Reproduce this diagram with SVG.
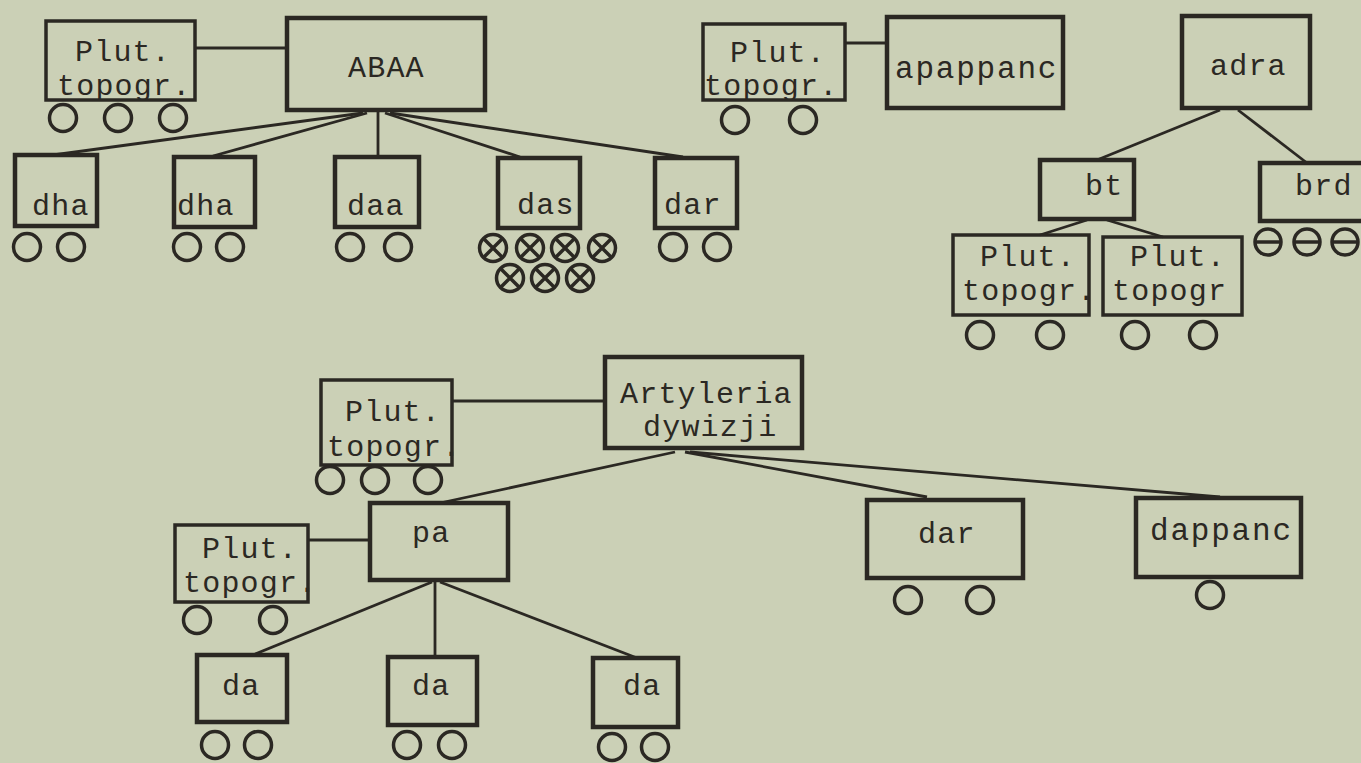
<svg xmlns="http://www.w3.org/2000/svg" xmlns:xlink="http://www.w3.org/1999/xlink" width="1361" height="763" viewBox="0 0 1361 763">
<style>
.bg{fill:#cbd0b6}
.box{fill:none;stroke:#2b2823;stroke-width:4.5}
.pbox{fill:none;stroke:#2b2823;stroke-width:3.5}
.ln{fill:none;stroke:#2b2823;stroke-width:2.8}
.sym{fill:none;stroke:#2b2823;stroke-width:3.5}
text{font-family:"Liberation Mono","DejaVu Sans Mono",monospace;font-size:30px;letter-spacing:1.2px;fill:#2b2823}
.w{font-size:31px;letter-spacing:1.8px}
</style>
<defs>
<g id="o"><circle class="sym" r="13.5"/></g>
<g id="x"><circle class="sym" r="13.5"/><path class="sym" d="M-9,-9L9,9M9,-9L-9,9" stroke-width="2.5"/></g>
<g id="th"><circle class="sym" r="13"/><path class="sym" d="M-13,0H13" stroke-width="2.5"/></g>
</defs>
<rect class="bg" x="0" y="0" width="1361" height="763"/>

<g id="connectors">
<path class="ln" d="M195,48H287"/>
<path class="ln" d="M363,113L53,155"/>
<path class="ln" d="M367,113L213,156"/>
<path class="ln" d="M378,112V157"/>
<path class="ln" d="M385,113L520,157"/>
<path class="ln" d="M390,113L683,157"/>
<path class="ln" d="M845,43H887"/>
<path class="ln" d="M1220,110L1097,160"/>
<path class="ln" d="M1238,110L1307,163"/>
<path class="ln" d="M1087,220L1040,235"/>
<path class="ln" d="M1107,220L1163,237"/>
<path class="ln" d="M452,401H605"/>
<path class="ln" d="M675,452L440,503"/>
<path class="ln" d="M685,452L927,497"/>
<path class="ln" d="M690,452L1220,497"/>
<path class="ln" d="M308,540H370"/>
<path class="ln" d="M432,582L253,655"/>
<path class="ln" d="M435,582V657"/>
<path class="ln" d="M440,582L637,658"/>
</g>

<g id="plut1">
<rect class="pbox" x="46" y="21" width="149" height="79"/>
<text x="75" y="61">Plut.</text>
<text x="57" y="95">topogr.</text>
<use href="#o" x="63" y="118"/><use href="#o" x="118" y="118"/><use href="#o" x="173" y="118"/>
</g>
<g id="abaa">
<rect class="box" x="287" y="18" width="198" height="92"/>
<text x="348" y="77">ABAA</text>
</g>
<g id="dha1">
<rect class="box" x="15" y="155" width="82" height="71"/>
<text x="32" y="215">dha</text>
<use href="#o" x="27" y="247"/><use href="#o" x="71" y="247"/>
</g>
<g id="dha2">
<rect class="box" x="174" y="157" width="81" height="70"/>
<text x="177" y="215">dha</text>
<use href="#o" x="187" y="247"/><use href="#o" x="230" y="247"/>
</g>
<g id="daa">
<rect class="box" x="335" y="157" width="84" height="70"/>
<text x="347" y="215">daa</text>
<use href="#o" x="350" y="247"/><use href="#o" x="398" y="247"/>
</g>
<g id="das">
<rect class="box" x="498" y="158" width="82" height="70"/>
<text x="517" y="214">das</text>
<use href="#x" x="493" y="248"/><use href="#x" x="530" y="248"/><use href="#x" x="565" y="248"/><use href="#x" x="602" y="248"/>
<use href="#x" x="510" y="278"/><use href="#x" x="545" y="278"/><use href="#x" x="580" y="278"/>
</g>
<g id="dar1">
<rect class="box" x="655" y="158" width="82" height="70"/>
<text x="664" y="214">dar</text>
<use href="#o" x="673" y="247"/><use href="#o" x="717" y="247"/>
</g>

<g id="plut2">
<rect class="pbox" x="703" y="24" width="142" height="76"/>
<text x="730" y="62">Plut.</text>
<text x="704" y="95">topogr.</text>
<use href="#o" x="735" y="120"/><use href="#o" x="803" y="120"/>
</g>
<g id="apappanc">
<rect class="box" x="887" y="17" width="176" height="91"/>
<text class="w" x="895" y="78">apappanc</text>
</g>

<g id="adra">
<rect class="box" x="1182" y="16" width="128" height="92"/>
<text x="1210" y="75">adra</text>
</g>
<g id="bt">
<rect class="box" x="1040" y="160" width="94" height="59"/>
<text x="1085" y="195">bt</text>
</g>
<g id="brd">
<rect class="box" x="1260" y="163" width="104" height="58"/>
<text x="1295" y="195">brd</text>
<use href="#th" x="1268" y="242"/><use href="#th" x="1307" y="242"/><use href="#th" x="1345" y="242"/>
</g>
<g id="plut3">
<rect class="pbox" x="953" y="235" width="136" height="80"/>
<text x="980" y="266">Plut.</text>
<text x="962" y="300">topogr.</text>
<use href="#o" x="980" y="335"/><use href="#o" x="1050" y="335"/>
</g>
<g id="plut4">
<rect class="pbox" x="1103" y="237" width="139" height="78"/>
<text x="1130" y="266">Plut.</text>
<text x="1112" y="300">topogr</text>
<use href="#o" x="1135" y="335"/><use href="#o" x="1203" y="335"/>
</g>

<g id="plut5">
<rect class="pbox" x="321" y="380" width="131" height="85"/>
<text x="345" y="421">Plut.</text>
<text x="327" y="456">topogr.</text>
<use href="#o" x="330" y="480"/><use href="#o" x="375" y="480"/><use href="#o" x="428" y="480"/>
</g>
<g id="artyleria">
<rect class="box" x="605" y="357" width="197" height="91"/>
<text x="620" y="403">Artyleria</text>
<text x="643" y="436">dywizji</text>
</g>
<g id="pa">
<rect class="box" x="370" y="503" width="138" height="77"/>
<text x="412" y="542">pa</text>
</g>
<g id="plut6">
<rect class="pbox" x="175" y="525" width="133" height="77"/>
<text x="202" y="558">Plut.</text>
<text x="183" y="592">topogr.</text>
<use href="#o" x="197" y="620"/><use href="#o" x="273" y="620"/>
</g>
<g id="dar2">
<rect class="box" x="867" y="500" width="156" height="78"/>
<text x="918" y="543">dar</text>
<use href="#o" x="908" y="600"/><use href="#o" x="980" y="600"/>
</g>
<g id="dappanc">
<rect class="box" x="1136" y="498" width="165" height="79"/>
<text class="w" x="1150" y="540">dappanc</text>
<use href="#o" x="1210" y="595"/>
</g>
<g id="da1">
<rect class="box" x="197" y="655" width="90" height="67"/>
<text x="222" y="695">da</text>
<use href="#o" x="215" y="745"/><use href="#o" x="258" y="745"/>
</g>
<g id="da2">
<rect class="box" x="388" y="657" width="89" height="68"/>
<text x="412" y="695">da</text>
<use href="#o" x="407" y="745"/><use href="#o" x="452" y="745"/>
</g>
<g id="da3">
<rect class="box" x="593" y="658" width="85" height="69"/>
<text x="623" y="695">da</text>
<use href="#o" x="612" y="747"/><use href="#o" x="655" y="747"/>
</g>
</svg>
